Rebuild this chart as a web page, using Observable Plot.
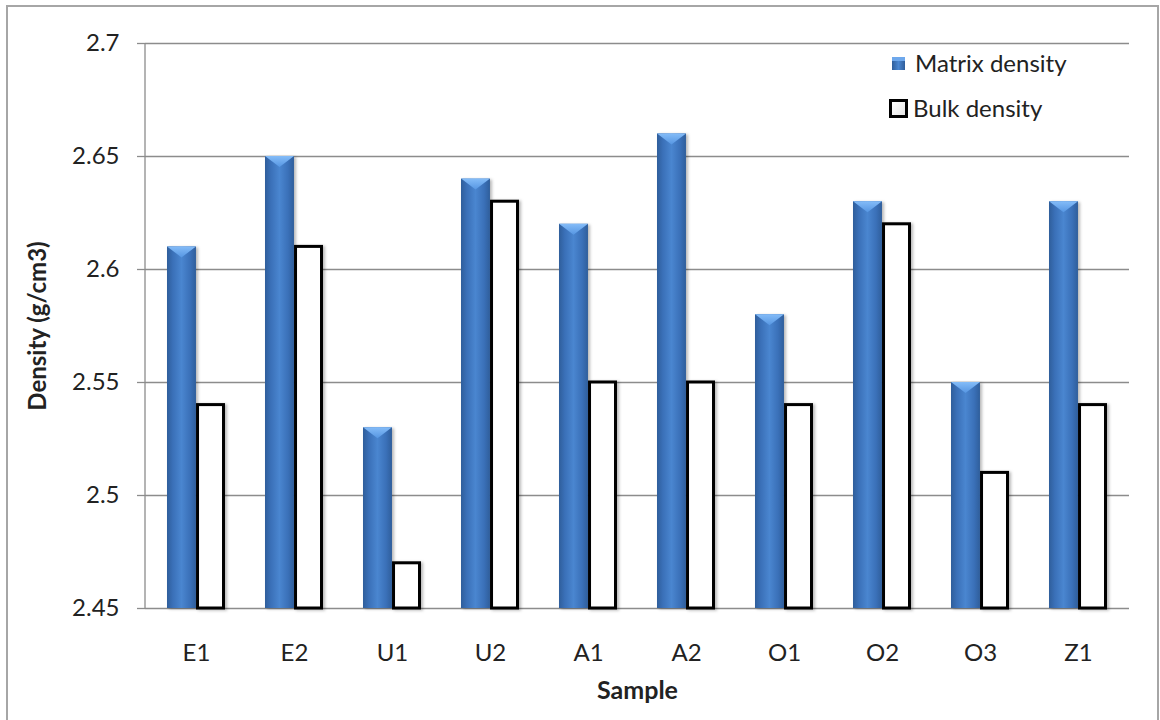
<!DOCTYPE html>
<html>
<head>
<meta charset="utf-8">
<script src="https://cdn.jsdelivr.net/npm/d3@7"></script>
<script src="https://cdn.jsdelivr.net/npm/@observablehq/plot@0.6"></script>
<style>
  html, body { margin: 0; padding: 0; background: #fff; overflow: hidden; }
  #wrap { position: relative; width: 1160px; height: 720px; font-family: Lato, "Open Sans", sans-serif; color: #222; }
  #frame { position: absolute; left: 6px; top: 5px; width: 1153px; height: 800px; border: 2px solid #a6a6a6; box-sizing: border-box; }
  #chart { position: absolute; left: 0; top: 0; }
  #chart svg g[aria-label="bar"] rect { filter: drop-shadow(2px 1px 1.5px rgba(0,0,0,0.28)); }
  #chart svg g[aria-label="y-axis tick"] path { stroke: #8c8c8c; stroke-width: 1.3; }
  .lg-item { position: absolute; display: flex; align-items: center; font-size: 24px; line-height: 24px; white-space: nowrap; }
  .sw-matrix { width: 13px; height: 13px; margin-right: 10px; background: linear-gradient(90deg, #2f5e9b, #4a86d0 50%, #2f5e9b); box-shadow: inset 0 4px 0 #6ea8ec; }
  .sw-bulk { width: 13px; height: 13px; margin-right: 5px; border: 3px solid #000; background: linear-gradient(135deg, #fff, #e4e4e4); }
</style>
</head>
<body>
<div id="wrap">
  <div id="frame"></div>
  <div id="chart"></div>
</div>
<script>
// Density measurements per sample (g/cm3)
const samples = ["E1", "E2", "U1", "U2", "A1", "A2", "O1", "O2", "O3", "Z1"];
const matrixDensity = [2.61, 2.65, 2.53, 2.64, 2.62, 2.66, 2.58, 2.63, 2.55, 2.63];
const bulkDensity   = [2.54, 2.61, 2.47, 2.63, 2.55, 2.55, 2.54, 2.62, 2.51, 2.54];
const yTicks = [2.45, 2.5, 2.55, 2.6, 2.65, 2.7];
const yBase = 2.45;
const seriesNames = ["Matrix density", "Bulk density"];

const rows = samples.map((s, i) => ({sample: s, matrix: matrixDensity[i], bulk: bulkDensity[i]}));

const W = 1160, H = 720;
const mL = 145, mR = 31, mT = 43, mB = 112;
const padIn = 0.41;
const step = (W - mL - mR) / samples.length;
const bw = step * (1 - padIn);
const half = bw / 2;

// vertical axis line along the left edge of the plotting area
const leftAxisLine = (index, scales, values, dims) =>
  d3.create("svg:line")
    .attr("x1", dims.marginLeft).attr("x2", dims.marginLeft)
    .attr("y1", dims.marginTop).attr("y2", dims.height - dims.marginBottom)
    .attr("stroke", "#8c8c8c").attr("stroke-width", 1.3)
    .node();

// light bevel triangle at the top of each matrix bar
const matrixBevel = (index, scales) => {
  const g = d3.create("svg:g");
  for (const d of rows) {
    const x0 = scales.x(d.sample);
    const y = scales.y(d.matrix);
    g.append("path")
      .attr("d", `M${x0},${y}H${x0 + half}L${x0 + half / 2},${y + 11}Z`)
      .attr("fill", "url(#bevelFill)");
  }
  return g.node();
};

const plot = Plot.plot({
  width: W, height: H,
  marginLeft: mL, marginRight: mR, marginTop: mT, marginBottom: mB,
  style: {fontFamily: "Lato, 'Open Sans', sans-serif", fontSize: "24px", color: "#222", background: "transparent", overflow: "visible"},
  x: {domain: samples, paddingInner: padIn, paddingOuter: padIn / 2, label: null},
  y: {domain: [yBase, 2.7], label: null},
  marks: [
    Plot.ruleY(yTicks, {stroke: "#8c8c8c", strokeWidth: 1.3}),
    Plot.axisY({ticks: yTicks, tickFormat: d => String(d), tickSize: 8, tickPadding: 18, fontSize: 24, label: null}),
    Plot.axisX({tickSize: 0, tickPadding: 35, fontSize: 24, label: null}),
    leftAxisLine,
    Plot.barY(rows, {x: "sample", y1: yBase, y2: "matrix", fill: "url(#matrixFill)", insetRight: half}),
    Plot.barY(rows, {x: "sample", y1: yBase, y2: "bulk", fill: "#fff", stroke: "#000", strokeWidth: 3, insetLeft: half + 1.5, insetRight: 1.5}),
    matrixBevel,
    Plot.text(["Sample"], {text: d => d, frameAnchor: "bottom", dy: 82, lineAnchor: "middle", textAnchor: "middle", fontWeight: "bold", fontSize: 25}),
    Plot.text(["Density (g/cm3)"], {text: d => d, frameAnchor: "left", dx: -107, rotate: -90, textAnchor: "middle", fontWeight: "bold", fontSize: 24})
  ]
});

// gradients used by the bar fills
const defs = d3.select(plot).insert("defs", ":first-child");
const mg = defs.append("linearGradient").attr("id", "matrixFill").attr("x1", 0).attr("x2", 1).attr("y1", 0).attr("y2", 0);
[[0, "#2f5e9b"], [0.2, "#3a70b8"], [0.5, "#4a86d0"], [0.8, "#3a70b8"], [1, "#2f5e9b"]]
  .forEach(([o, c]) => mg.append("stop").attr("offset", o).attr("stop-color", c));
const bg = defs.append("linearGradient").attr("id", "bevelFill").attr("x1", 0).attr("x2", 0).attr("y1", 0).attr("y2", 1);
[[0, "#84bcf8"], [1, "#5696e2"]]
  .forEach(([o, c]) => bg.append("stop").attr("offset", o).attr("stop-color", c));

document.getElementById("chart").appendChild(plot);

// legend in the upper right of the plotting area
const legendPos = [{left: 892, top: 51}, {left: 889, top: 96}];
const legendClass = ["sw-matrix", "sw-bulk"];
seriesNames.forEach((name, i) => {
  const item = d3.select("#wrap").append("div").attr("class", "lg-item")
    .style("left", legendPos[i].left + "px").style("top", legendPos[i].top + "px");
  item.append("div").attr("class", legendClass[i]);
  item.append("span").text(name);
});
</script>
</body>
</html>
